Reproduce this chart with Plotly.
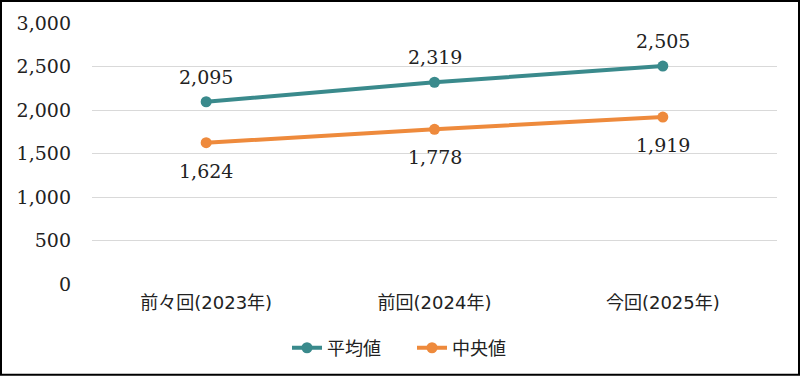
import plotly.graph_objects as go

categories = ["前々回(2023年)", "前回(2024年)", "今回(2025年)"]
mean_values = [2095, 2319, 2505]
median_values = [1624, 1778, 1919]
series_names = ["平均値", "中央値"]
y_ticks = [0, 500, 1000, 1500, 2000, 2500, 3000]

teal = "#3A8A8C"
orange = "#EE8A3C"
num_font = "DejaVu Serif, Noto Sans CJK JP"
cjk_font = "Noto Sans CJK JP"
cat_font = "DejaVu Sans, Noto Sans CJK JP"

fig = go.Figure()
fig.add_trace(go.Scatter(
    x=categories, y=mean_values, name=series_names[0], mode="lines+markers",
    line=dict(color=teal, width=4), marker=dict(size=11, color=teal),
))
fig.add_trace(go.Scatter(
    x=categories, y=median_values, name=series_names[1], mode="lines+markers",
    line=dict(color=orange, width=4), marker=dict(size=11, color=orange),
))

annotations = []
for c, v in zip(categories, mean_values):
    annotations.append(dict(x=c, y=v, text=f"{v:,}", showarrow=False, yshift=25,
                            font=dict(family=num_font, size=19, color="#222222")))
for c, v in zip(categories, median_values):
    annotations.append(dict(x=c, y=v, text=f"{v:,}", showarrow=False, yshift=-28,
                            font=dict(family=num_font, size=19, color="#222222")))

W, H = 800, 377
ml, mr, mt, mb = 92, 23, 23, 92
pw, ph = W - ml - mr, H - mt - mb

fig.update_layout(
    width=W, height=H,
    margin=dict(l=ml, r=mr, t=mt, b=mb),
    paper_bgcolor="white", plot_bgcolor="white",
    showlegend=True,
    annotations=annotations,
    legend=dict(orientation="h", x=(412 - ml) / pw, xanchor="center", y=-0.17, yanchor="top",
                entrywidth=80,
                font=dict(family=cjk_font, size=18, color="#222222")),
    xaxis=dict(range=[-0.5, 2.5], showgrid=False, showline=False, ticks="",
               ticklabelstandoff=6,
               tickfont=dict(family=cat_font, size=18, color="#222222")),
    yaxis=dict(range=[0, 3000], tickvals=y_ticks, tickformat=",",
               showgrid=True, gridcolor="#D9D9D9", gridwidth=1, zeroline=False,
               showline=False, ticks="", ticklabelstandoff=20,
               tickfont=dict(family=num_font, size=19, color="#222222")),
    font=dict(family=num_font),
    shapes=[dict(type="rect", xref="paper", yref="paper",
                 x0=(1 - ml) / pw, x1=(W - 1 - ml) / pw,
                 y0=(H - mb - (H - 1)) / ph, y1=(H - mb - 1) / ph,
                 line=dict(color="black", width=2), fillcolor="rgba(0,0,0,0)", layer="above")],
)

fig.write_html("out.html", config={"displayModeBar": False},
               post_script="document.body.style.margin='0';document.body.style.overflow='hidden';")
